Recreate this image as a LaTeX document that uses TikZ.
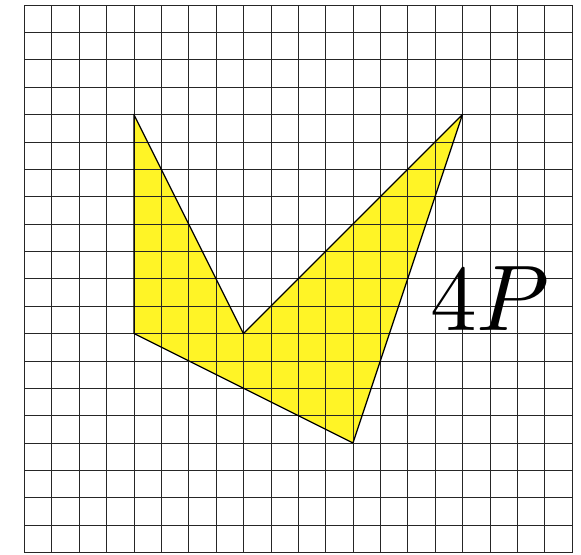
\documentclass[tikz,border=0pt]{standalone}
\usepackage{amsmath,amssymb}
\usepackage{xcolor}
\usepackage{tikz}
\usetikzlibrary{calc}

\begin{document}
\begin{tikzpicture}[
  gridline/.style={draw=black!85, line width=0.6pt},
  outline/.style={draw=black, line width=1.3pt, line join=round},
  bigtext/.style={inner sep=0pt, anchor=base west, font=\normalsize, scale=9.7, transform shape}
]
\useasboundingbox (-0.89,-0.07) rectangle (20.33,20.18);

% Polygon corners
\coordinate (a) at (4,16);
\coordinate (b) at (8,8);
\coordinate (c) at (16,16);
\coordinate (d) at (12,4);
\coordinate (e) at (4,8);

% Shape and grid
\fill[yellow!85!white] (a) -- (b) -- (c) -- (d) -- (e) -- cycle;
\draw[gridline] (0,0) grid (20,20);
\draw[outline] (a) -- (b) -- (c) -- (d) -- (e) -- cycle;

% Label
\node[bigtext] (lbl) at (14.75,8.1) {$4P$};

\end{tikzpicture}
\end{document}
